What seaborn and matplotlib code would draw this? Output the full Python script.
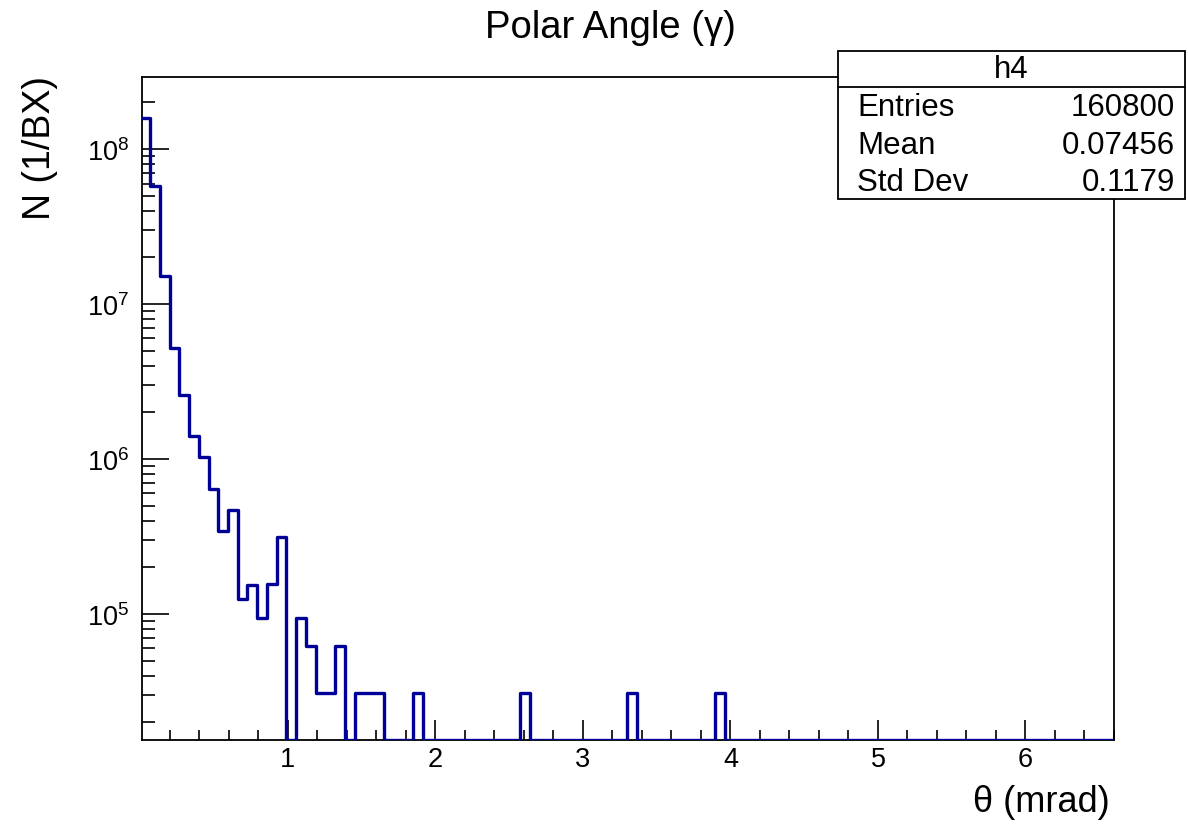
import numpy as np
import pandas as pd
import matplotlib
matplotlib.use("Agg")
import matplotlib.pyplot as plt
import seaborn as sns
from matplotlib.ticker import LogLocator, MultipleLocator, NullFormatter, LogFormatterMathtext
from matplotlib.patches import Rectangle
from matplotlib.lines import Line2D

# ---------------- data ----------------
bin_width = 0.066          # mrad
n_bins = 100
x_range = (0.011, 6.6)
counts = [
    1.58e8, 5.74e7, 1.52e7, 5.18e6, 2.59e6, 1.40e6, 1.03e6, 6.4e5, 3.42e5, 4.71e5,
    1.25e5, 1.55e5, 9.4e4, 1.57e5, 3.13e5, 0, 9.4e4, 6.2e4, 3.1e4, 3.1e4,
    6.2e4, 0, 3.1e4, 3.1e4, 3.1e4, 0, 0, 0, 3.1e4, 0,
    0, 0, 0, 0, 0, 0, 0, 0, 0, 3.1e4,
    0, 0, 0, 0, 0, 0, 0, 0, 0, 0,
    3.1e4, 0, 0, 0, 0, 0, 0, 0, 0, 3.1e4,
    0, 0, 0, 0, 0, 0, 0, 0, 0, 0,
    0, 0, 0, 0, 0, 0, 0, 0, 0, 0,
    0, 0, 0, 0, 0, 0, 0, 0, 0, 0,
    0, 0, 0, 0, 0, 0, 0, 0, 0, 0,
]
y_range = (1.54e4, 2.92e8)
x_ticks = [1, 2, 3, 4, 5, 6]
hist_name = "h4"
stat_names = ["Entries", "Mean", "Std Dev"]
stat_values = ["160800", "0.07456", "0.1179"]
title = "Polar Angle (\u03b3)"
x_label = "\u03b8 (mrad)"
y_label = "N (1/BX)"

# ---------------- style ----------------
sns.set_theme(style="white")
plt.rcParams['font.family'] = ['Liberation Sans', 'DejaVu Sans']
plt.rcParams['mathtext.fontset'] = 'custom'
plt.rcParams['mathtext.rm'] = 'Liberation Sans'
plt.rcParams['mathtext.it'] = 'Liberation Sans:italic'
plt.rcParams['mathtext.bf'] = 'Liberation Sans:bold'
plt.rcParams['text.color'] = 'black'
plt.rcParams['xtick.color'] = 'black'
plt.rcParams['ytick.color'] = 'black'

W, H = 1188, 829
fig = plt.figure(figsize=(W / 100, H / 100), dpi=100)
fig.patch.set_facecolor("white")
ax = fig.add_axes([142 / W, 1 - 741 / H, (1114 - 142) / W, (741 - 78) / H])
ax.set_facecolor("white")

counts = np.array(counts, dtype=float)
edges = [i * bin_width for i in range(n_bins + 1)]
centers = [(i + 0.5) * bin_width for i in range(n_bins)]
# empty bins are drawn along the bottom of the frame, as ROOT does
shown = np.where(counts > 0, counts, y_range[0])
df = pd.DataFrame({"theta": centers, "w": shown})

sns.histplot(data=df, x="theta", weights="w", bins=edges, element="step", fill=False,
             color="#000099", linewidth=2.4, ax=ax, zorder=3)

ax.set_yscale("log")
ax.set_xlim(*x_range)
ax.set_ylim(*y_range)

ax.xaxis.set_major_locator(plt.FixedLocator(x_ticks))
ax.xaxis.set_minor_locator(MultipleLocator(0.2))
ax.yaxis.set_major_locator(LogLocator(base=10, numticks=20))
ax.yaxis.set_minor_locator(LogLocator(base=10, subs=np.arange(2, 10), numticks=20))
ax.yaxis.set_major_formatter(LogFormatterMathtext())
ax.yaxis.set_minor_formatter(NullFormatter())

ax.tick_params(axis="both", which="both", direction="in", colors="black",
               labelcolor="black",
               left=True, bottom=True, top=False, right=False, labelsize=19.5)
ax.tick_params(axis="y", which="major", length=19.5, width=1.2, pad=9)
ax.tick_params(axis="y", which="minor", length=9.5, width=1.2)
ax.tick_params(axis="x", which="major", length=14.5, width=1.2, pad=4)
ax.tick_params(axis="x", which="minor", length=7.2, width=1.2)
for s in ax.spines.values():
    s.set_color("black")
    s.set_linewidth(1.3)
    s.set_visible(True)
ax.grid(False)
ax.set_xlabel("")
ax.set_ylabel("")

# titles / axis labels
fig.text(610 / W, 1 - 28 / H, title, ha="center", va="center", fontsize=27.5, color="black")
fig.text(1110 / W, 1 - 803 / H, x_label, ha="right", va="center", fontsize=26, color="black")
fig.text(40 / W, 1 - 76 / H, y_label, ha="center", va="top", rotation=90, fontsize=27,
         color="black")

# stats box
bx0, bx1 = 838 / W, 1185 / W
by0, by1 = 1 - 200 / H, 1 - 52 / H
fig.add_artist(Rectangle((bx0, by0), bx1 - bx0, by1 - by0, transform=fig.transFigure,
                         facecolor="white", edgecolor="black", linewidth=1.3, zorder=5))
fig.add_artist(Line2D([bx0, bx1], [1 - 88 / H, 1 - 88 / H], transform=fig.transFigure,
                      color="black", linewidth=1.3, zorder=6))
fig.text((bx0 + bx1) / 2, 1 - 70 / H, hist_name, ha="center", va="center", fontsize=22.5,
         zorder=7, color="black")
for i, (n, v) in enumerate(zip(stat_names, stat_values)):
    yy = 1 - (108 + 37.5 * i) / H
    fig.text(857 / W, yy, n, ha="left", va="center", fontsize=22.5, zorder=7, color="black")
    fig.text(1175 / W, yy, v, ha="right", va="center", fontsize=22.5, zorder=7, color="black")

fig.savefig("out.png", dpi=100, facecolor="white")
